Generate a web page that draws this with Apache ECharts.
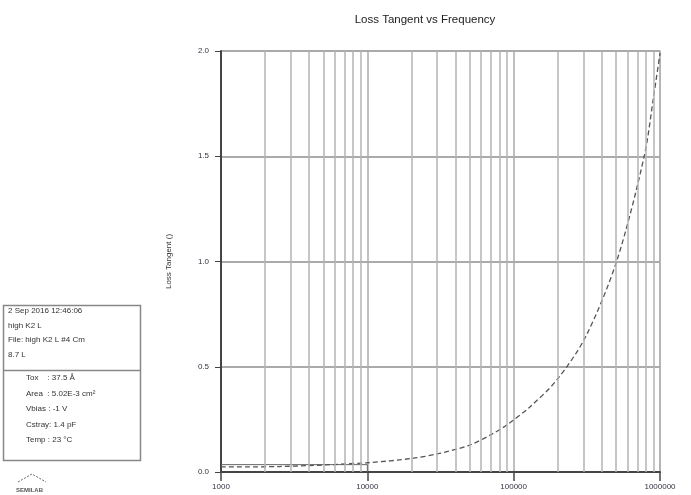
<!DOCTYPE html>
<html><head><meta charset="utf-8">
<script src="https://cdn.jsdelivr.net/npm/echarts@6/dist/echarts.min.js"></script>
<style>html,body{margin:0;padding:0;background:#fff}#c{width:691px;height:495px}</style>
</head><body><div id="c"></div>
<script>
var freq = [1000, 2500, 10000, 20400, 31000, 50000, 72000, 92000, 129000, 196000, 309000, 505000, 780000, 903000, 1000000];
var lossTangent = [0.024, 0.026, 0.044, 0.065, 0.088, 0.128, 0.182, 0.229, 0.309, 0.435, 0.64, 1.0, 1.5, 1.78, 1.99];
var refLine = [[1000, 0.035], [10000, 0.035], [10000, 0]];
var minorGrid = [2000,3000,4000,5000,6000,7000,8000,9000,20000,30000,40000,50000,60000,70000,80000,90000,200000,300000,400000,500000,600000,700000,800000,900000];
var yTicks = [0, 0.5, 1.0, 1.5, 2.0];
var infoTop = ['2 Sep 2016 12:46:06', 'high K2 L', 'File: high K2 L #4 Cm', '8.7 L'];
var infoBottom = ['Tox    : 37.5 Å', 'Area  : 5.02E-3 cm²', 'Vbias : -1 V', 'Cstray: 1.4 pF', 'Temp : 23 °C'];

var chart = echarts.init(document.getElementById('c'));
var ff = 'Liberation Sans, Arial, sans-serif';
var graphics = [
  {type:'rect', shape:{x:3.5,y:305.5,width:137,height:155}, style:{fill:'#fff',stroke:'#888',lineWidth:1.5}},
  {type:'line', shape:{x1:3.5,y1:370.5,x2:140.5,y2:370.5}, style:{stroke:'#888',lineWidth:1.5}}
];
infoTop.forEach(function(t,i){graphics.push({type:'text',left:8,top:307+i*14.5,style:{text:t,font:'8px '+ff,fill:'#333'}});});
infoBottom.forEach(function(t,i){graphics.push({type:'text',left:26,top:374+i*15.5,style:{text:t,font:'8px '+ff,fill:'#333'}});});
graphics.push({type:'polyline',shape:{points:[[18,482],[32,474],[46,482]]},style:{stroke:'#666',lineWidth:1,lineDash:[2,1.5],fill:null}});
graphics.push({type:'text',left:16,top:487,style:{text:'SEMILAB',font:'bold 6px '+ff,fill:'#555'}});

chart.setOption({
  animation:false,
  backgroundColor:'#fff',
  title:{text:'Loss Tangent vs Frequency',left:420,top:9,textAlign:'center',textStyle:{fontFamily:ff,fontSize:11.5,fontWeight:'normal',color:'#222'}},
  graphic:graphics,
  grid:{left:221,right:31,top:51,bottom:23,show:true,borderColor:'#ccc',borderWidth:1.5},
  xAxis:{type:'log',logBase:10,min:1000,max:1000000,
    axisLine:{show:true,onZero:false,lineStyle:{color:'#444',width:2}},
    axisTick:{show:true,length:9,lineStyle:{color:'#444',width:1.5}},
    axisLabel:{fontFamily:ff,fontSize:8,color:'#334',margin:11,formatter:function(v){return String(Math.round(v));}},
    splitLine:{show:true,lineStyle:{color:'#aaa',width:1.5}},
    minorTick:{show:false},minorSplitLine:{show:false}
  },
  yAxis:{type:'value',min:0,max:2,interval:0.5,
    name:'Loss Tangent ()',nameLocation:'middle',nameGap:48,nameRotate:90,
    nameTextStyle:{fontFamily:ff,fontSize:8,color:'#333'},
    axisLine:{show:true,lineStyle:{color:'#444',width:2}},
    axisTick:{show:true,length:6,lineStyle:{color:'#444'}},
    axisLabel:{fontFamily:ff,fontSize:8,color:'#334',margin:12,formatter:function(v){return v.toFixed(1);}},
    splitLine:{show:true,lineStyle:{color:'#aaa',width:2}}
  },
  series:[
    {type:'line',data:refLine.map(function(p){return p;}),symbol:'none',silent:true,
      lineStyle:{color:'#666',width:1},z:3,
      markLine:{silent:true,symbol:'none',label:{show:false},animation:false,
        lineStyle:{color:'#b3b3b3',width:1.5,type:'solid'},
        data:minorGrid.map(function(v){return {xAxis:v};})}},
    {type:'line',data:freq.map(function(f,i){return [f,lossTangent[i]];}),symbol:'none',smooth:0.3,
      lineStyle:{color:'#555',width:1.3,type:[5,3]},z:4}
  ]
});
</script></body></html>
